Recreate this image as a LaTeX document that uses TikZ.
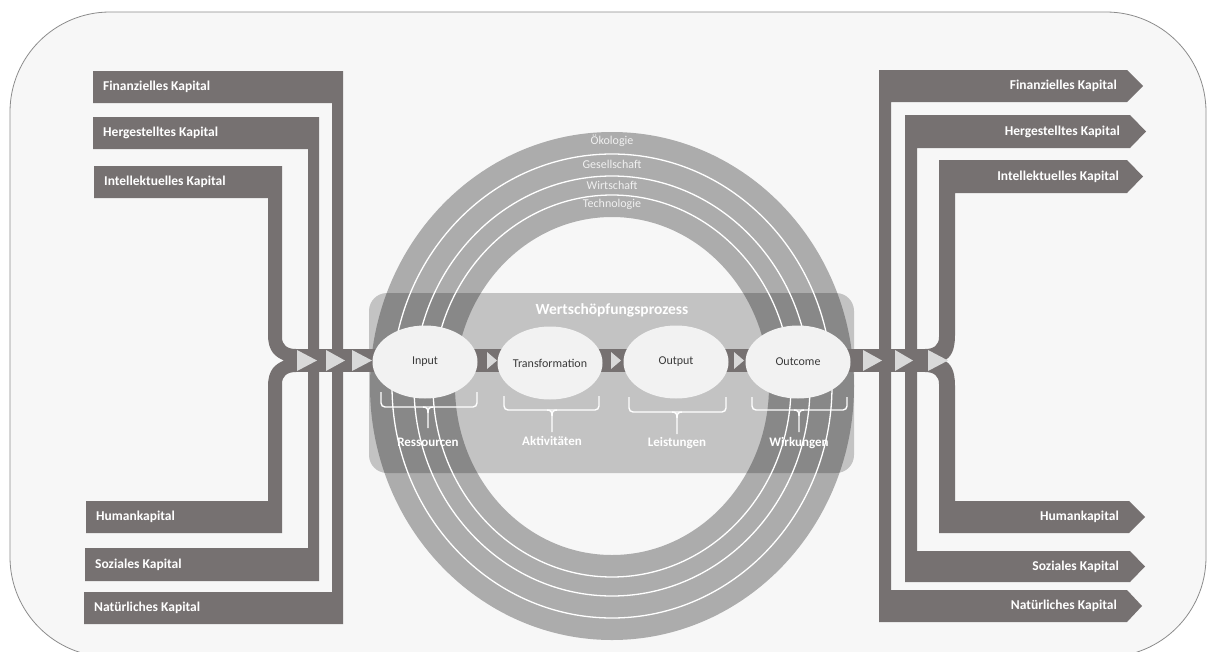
\documentclass[tikz,border=0pt]{standalone}
\usepackage{fontspec}
\setmainfont{Carlito}
\usetikzlibrary{shapes.geometric}
\definecolor{barc}{HTML}{767171}
\definecolor{tric}{HTML}{D9D9D9}
\definecolor{bgc}{HTML}{F7F7F7}
\definecolor{rectc}{HTML}{C3C3C3}
\definecolor{ellc}{HTML}{F2F2F2}
\definecolor{etext}{HTML}{3A3A3A}
\definecolor{framec}{HTML}{8C8C8C}
\definecolor{ringtext}{HTML}{F0F0F0}
\begin{document}
\begin{tikzpicture}[x=1pt,y=-1pt,
  barlbl/.style={text=white,font=\bfseries\fontsize{13.5}{15}\selectfont,inner sep=0pt},
  bar/.style={fill=barc},
  tri/.style={fill=tric},
  proc/.style={ellipse,fill=ellc,minimum width=105pt,minimum height=73pt,inner sep=0pt,text=etext,font=\fontsize{12}{14}\selectfont},
  ringlbl/.style={text=ringtext,font=\fontsize{12}{13}\selectfont,inner sep=0pt},
  bracelbl/.style={text=white,font=\bfseries\fontsize{13}{15}\selectfont,inner sep=0pt},
  bracel/.style={draw=white,line width=1.4pt,rounded corners=4pt},
  ringsep/.style={draw=white,line width=1.3pt}
]
\useasboundingbox (0,0) rectangle (1216,651);
\fill[white] (0,0) rectangle (1216,651);
\draw[draw=framec,fill=bgc,line width=0.8pt,rounded corners=100pt] (10,12) rectangle (1206,657);

% process frame
\fill[rectc,rounded corners=18pt] (369,293) rectangle (854,473);

% ring
\fill[black,opacity=.3,even odd rule] (612,386) ellipse [x radius=242pt, y radius=254pt]
  (612,386) ellipse [x radius=157pt, y radius=169pt];
\draw[ringsep] (612,386) ellipse [x radius=220pt, y radius=232pt];
\draw[ringsep] (612,386) ellipse [x radius=198pt, y radius=210pt];
\draw[ringsep] (612,386) ellipse [x radius=179pt, y radius=191pt];

\node[ringlbl] (oek) at (612,141) {Ökologie};
\node[ringlbl] (ges) at (612,164) {Gesellschaft};
\node[ringlbl] (wir) at (612,185) {Wirtschaft};
\node[ringlbl] (tec) at (612,204) {Technologie};

\node[text=white,font=\bfseries\fontsize{15.5}{17}\selectfont,inner sep=0pt] (title) at (612,310) {Wertschöpfungsprozess};

% left capital bars
\fill[bar] (93,71) -- (343,71) -- (343,624) -- (84,624) -- (84,592) -- (332,592) -- (332,103) -- (93,103) -- cycle;
\fill[bar] (93,117) -- (319,117) -- (319,581) -- (85,581) -- (85,548) -- (308,548) -- (308,149) -- (93,149) -- cycle;
\fill[bar] (94,166) -- (282,166) -- (282,337) .. controls (282,345) and (287,349) .. (296,349)
  -- (296,372) .. controls (287,372) and (282,376) .. (282,384) -- (282,533) -- (86,533) -- (86,501)
  -- (268,501) -- (268,386) .. controls (268,369) and (276,364) .. (284,360.5)
  .. controls (276,357) and (268,352) .. (268,335) -- (268,198) -- (94,198) -- cycle;

% right capital bars
\fill[bar] (879,70) -- (1127,70) -- (1143,86) -- (1127,102) -- (891,102) -- (891,590) -- (1127,590)
  -- (1142,606) -- (1127,622) -- (879,622) -- cycle;
\fill[bar] (905,115) -- (1130,115) -- (1146,131.5) -- (1130,148) -- (917,148) -- (917,551) -- (1130,551)
  -- (1145,566.5) -- (1130,582) -- (905,582) -- cycle;
\fill[bar] (939,160) -- (1127,160) -- (1143,176.5) -- (1127,193) -- (955,193) -- (955,335)
  .. controls (955,352) and (950,357) .. (945,360.5) .. controls (950,364) and (955,369) .. (955,386)
  -- (955,501) -- (1129,501) -- (1145,517) -- (1129,533) -- (939,533) -- (939,384)
  .. controls (939,376) and (934,372) .. (925,372) -- (925,349) .. controls (934,349) and (939,345) .. (939,337) -- cycle;

% main flow band
\fill[bar] (290,349) rectangle (930,372);

% left triangles
\fill[tri] (297,350) -- (317,360.5) -- (297,371) -- cycle;
\fill[tri] (326,350) -- (345,360.5) -- (326,371) -- cycle;
\fill[tri] (352,350) -- (372,360.5) -- (352,371) -- cycle;
% right triangles
\fill[tri] (863,350) -- (882,360.5) -- (863,371) -- cycle;
\fill[tri] (895,350) -- (913,360.5) -- (895,371) -- cycle;
\fill[tri] (928,350) -- (948,360.5) -- (928,371) -- cycle;
% inner triangles
\fill[tri] (487,352) -- (497,360.5) -- (487,369) -- cycle;
\fill[tri] (611,352) -- (621,360.5) -- (611,369) -- cycle;
\fill[tri] (734,352) -- (744,360.5) -- (734,369) -- cycle;

% process ellipses
\node[proc] (in)  at (425,362) {Input};
\node[proc] (tr)  at (550,363) {Transformation};
\node[proc] (out) at (676,362) {Output};
\node[proc] (oc)  at (798,362) {Outcome};

% braces
\draw[bracel] (381,392) -- (381,407) -- (477,407) -- (477,392);
\draw[draw=white,line width=1.4pt] (423,407) .. controls (427,407) and (428,409) .. (428,413) -- (428,428);
\draw[draw=white,line width=1.4pt] (433,407) .. controls (429,407) and (428,409) .. (428,413);
\draw[bracel] (504,396) -- (504,410) -- (599,410) -- (599,396);
\draw[draw=white,line width=1.4pt] (547,410) .. controls (551,410) and (552,412) .. (552,416) -- (552,432);
\draw[draw=white,line width=1.4pt] (557,410) .. controls (553,410) and (552,412) .. (552,416);
\draw[bracel] (629,397) -- (629,412) -- (726,412) -- (726,397);
\draw[draw=white,line width=1.4pt] (672,412) .. controls (676,412) and (677,414) .. (677,418) -- (677,434);
\draw[draw=white,line width=1.4pt] (682,412) .. controls (678,412) and (677,414) .. (677,418);
\draw[bracel] (752,397) -- (752,410) -- (847,410) -- (847,397);
\draw[draw=white,line width=1.4pt] (794,410) .. controls (798,410) and (799,412) .. (799,416) -- (799,432);
\draw[draw=white,line width=1.4pt] (804,410) .. controls (800,410) and (799,412) .. (799,416);

\node[bracelbl] (res) at (428,442) {Ressourcen};
\node[bracelbl] (akt) at (552,441) {Aktivitäten};
\node[bracelbl] (lei) at (677,443) {Leistungen};
\node[bracelbl] (wrk) at (799,443) {Wirkungen};

% left labels
\node[barlbl,anchor=west] (lf) at (103,87) {Finanzielles Kapital};
\node[barlbl,anchor=west] (lh) at (103,133) {Hergestelltes Kapital};
\node[barlbl,anchor=west] (li) at (104,182) {Intellektuelles Kapital};
\node[barlbl,anchor=west] (lm) at (96,517) {Humankapital};
\node[barlbl,anchor=west] (ls) at (95,564.5) {Soziales Kapital};
\node[barlbl,anchor=west] (ln) at (94,608) {Natürliches Kapital};
% right labels
\node[barlbl,anchor=east] (rf) at (1117,86) {Finanzielles Kapital};
\node[barlbl,anchor=east] (rh) at (1120,131.5) {Hergestelltes Kapital};
\node[barlbl,anchor=east] (ri) at (1119,176.5) {Intellektuelles Kapital};
\node[barlbl,anchor=east] (rm) at (1119,517) {Humankapital};
\node[barlbl,anchor=east] (rs) at (1119,566.5) {Soziales Kapital};
\node[barlbl,anchor=east] (rn) at (1117,606) {Natürliches Kapital};
\end{tikzpicture}
\end{document}
